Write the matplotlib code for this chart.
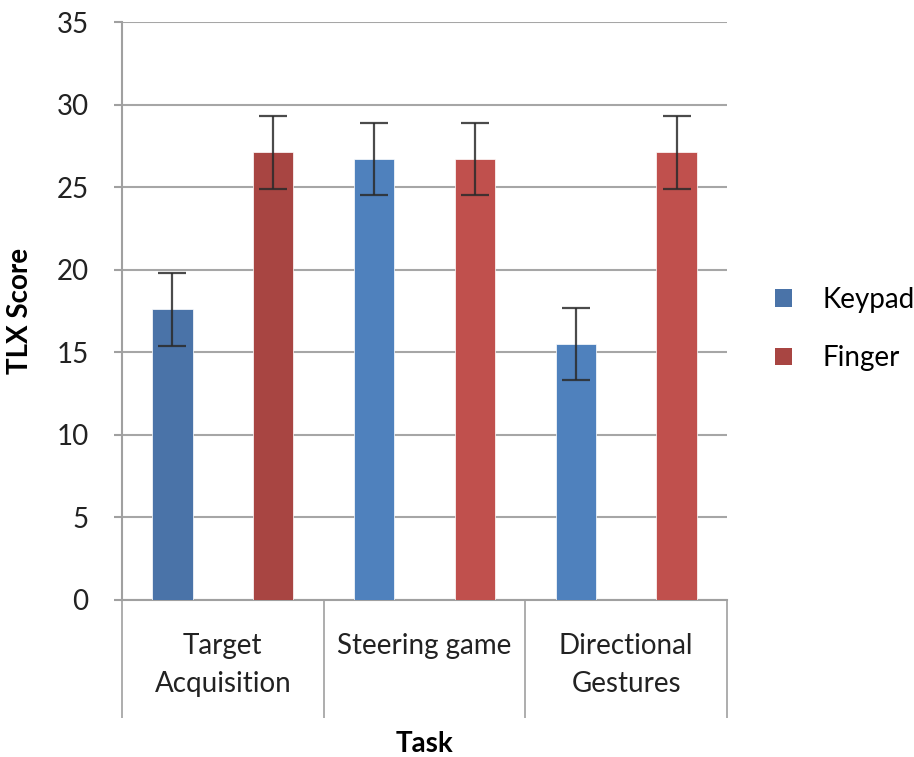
import matplotlib
matplotlib.use("Agg")
import matplotlib.pyplot as plt
from matplotlib.patches import Patch
import numpy as np

tasks = ["Target\nAcquisition", "Steering game", "Directional\nGestures"]
series = ["Keypad", "Finger"]
keypad = [17.6, 26.7, 15.5]
finger = [27.1, 26.7, 27.1]
keypad_err = [2.2, 2.2, 2.2]
finger_err = [2.2, 2.2, 2.2]
yticks = [0, 5, 10, 15, 20, 25, 30, 35]

blue = "#4F81BD"
red = "#C0504D"
blue_dark = "#4A73A8"
red_dark = "#A84542"

plt.rcParams["font.family"] = ["Lato", "DejaVu Sans"]
FS = 20

fig = plt.figure(figsize=(9.14, 7.57), dpi=100)
ax = fig.add_axes([122 / 914, 157 / 757, 605 / 914, 578 / 757])

x = np.arange(len(tasks)) + 0.5
w = 0.2
off = 0.25
kcolors = [blue_dark, blue, blue]
fcolors = [red_dark, red, red]

ax.bar(x - off, keypad, w, color=kcolors, edgecolor="white", linewidth=0.5, zorder=3)
ax.bar(x + off, finger, w, color=fcolors, edgecolor="white", linewidth=0.5, zorder=3)
err_kw = dict(fmt="none", ecolor="#2b2b2b", elinewidth=1.6, capsize=10, capthick=1.6, alpha=0.85, zorder=4)
ax.errorbar(x - off, keypad, yerr=keypad_err, **err_kw)
ax.errorbar(x + off, finger, yerr=finger_err, **err_kw)

ax.set_xlim(0, 3)
ax.set_ylim(0, 35)
ax.set_yticks(yticks)
ax.set_yticklabels([str(v) for v in yticks], fontsize=FS, color="#222222")
ax.grid(axis="y", color="#a6a6a6", linewidth=1.5, zorder=0)
ax.set_axisbelow(True)

for s in ["top", "right"]:
    ax.spines[s].set_visible(False)
for s in ["left", "bottom"]:
    ax.spines[s].set_color("#a0a0a0")
    ax.spines[s].set_linewidth(1.5)
ax.tick_params(axis="y", length=6, width=1.5, color="#a0a0a0", pad=18)

# category separators below the axis, labels centred between them
ax.set_xticks([0, 1, 2, 3])
ax.set_xticklabels(["", "", "", ""])
ax.tick_params(axis="x", which="major", length=85, width=1.2, color="#a0a0a0")
ax.set_xticks(x, minor=True)
ax.set_xticklabels(tasks, minor=True, fontsize=FS, color="#222222", linespacing=1.55)
ax.tick_params(axis="x", which="minor", length=0, pad=24)

ax.set_ylabel("TLX Score", fontsize=FS, fontweight="bold")
ax.yaxis.set_label_coords(-0.147, 0.5)
ax.set_xlabel("Task", fontsize=FS, fontweight="bold")
ax.xaxis.set_label_coords(0.5, -0.226)

handles = [Patch(facecolor=blue_dark, edgecolor="none"), Patch(facecolor=red_dark, edgecolor="none")]
fig.legend(handles, series, loc="center left", bbox_to_anchor=(775 / 914, 1 - 329 / 757),
           frameon=False, fontsize=FS, handlelength=0.6, handleheight=0.6,
           handletextpad=1.1, labelspacing=1.17, borderpad=0, borderaxespad=0)

fig.savefig("out.png", dpi=100, facecolor="white")
